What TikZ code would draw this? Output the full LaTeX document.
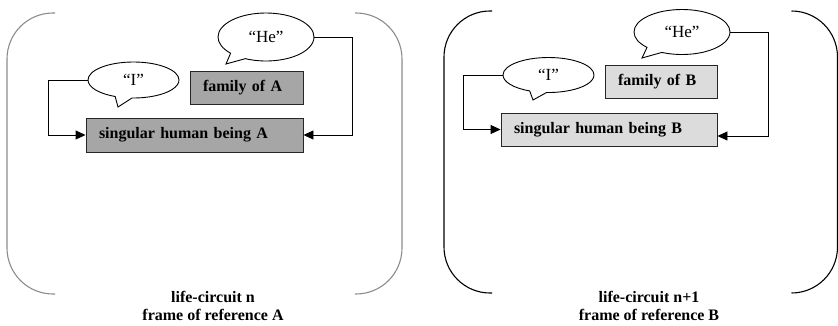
\documentclass[tikz,border=0pt]{standalone}
\usepackage{fontspec}
\setmainfont{Liberation Serif}
\usetikzlibrary{arrows.meta,shapes.callouts}
\definecolor{boxdark}{HTML}{A6A6A6}
\definecolor{boxlight}{HTML}{DCDCDC}
\definecolor{bracketgray}{HTML}{8C8C8C}
\begin{document}
\begin{tikzpicture}[x=1pt,y=1pt,
  bubble/.style={ellipse callout, draw=black, fill=white, line width=0.9pt,
    inner sep=0pt, font=\fontsize{17}{19}\selectfont, callout pointer arc=22},
  person/.style={draw=black!85, line width=0.9pt, inner xsep=13pt, inner ysep=0pt,
    align=left, font=\bfseries\fontsize{16}{18}\selectfont},
  link/.style={draw=black, line width=0.9pt},
  arrowlink/.style={link, -{Triangle[length=10pt,width=9pt]}},
  bracket/.style={line width=1.1pt, rounded corners=46pt},
  caption/.style={align=center, font=\bfseries\fontsize{16}{18}\selectfont}
]
\useasboundingbox (0,0) rectangle (838,-326);

% ---- life-circuit n ----
\draw[bracket, bracketgray] (55,-13) -- (7,-13) -- (7,-294) -- (55,-294);
\draw[bracket, bracketgray] (355,-13) -- (402,-13) -- (402,-294) -- (355,-294);

\node[person, fill=boxdark, text width=191pt, minimum height=34pt] (singA) at (194.5,-135) {singular human being A};
\node[person, fill=boxdark, text width=87pt, minimum height=33pt] (famA) at (246.5,-87.5) {family of A};

\node[bubble, minimum width=96pt, minimum height=48pt,
  callout absolute pointer={(226,-64)}] (HeA) at (266,-37) {``He''};
\node[bubble, minimum width=91pt, minimum height=36pt,
  callout absolute pointer={(118,-107)}] (IA) at (133.5,-80) {``I''};

\coordinate (rA) at (352,-135);
\coordinate (lA) at (48,-135);
\draw[arrowlink] (HeA.east) -| (rA) -- (singA.east);
\draw[arrowlink] (IA.west) -| (lA) -- (singA.west);

\node[caption] (capA) at (213,-306) {life-circuit n\\frame of reference A};

% ---- life-circuit n+1 ----
\draw[bracket, black] (492,-11) -- (444,-11) -- (444,-293) -- (492,-293);
\draw[bracket, black] (792,-11) -- (837.5,-11) -- (837.5,-293) -- (792,-293);

\node[person, fill=boxlight, text width=190pt, minimum height=33pt] (singB) at (609,-129.5) {singular human being B};
\node[person, fill=boxlight, text width=86pt, minimum height=33pt] (famB) at (661,-81.5) {family of B};

\node[bubble, minimum width=96pt, minimum height=45pt,
  callout absolute pointer={(642,-58)}] (HeB) at (682,-32) {``He''};
\node[bubble, minimum width=91pt, minimum height=35pt,
  callout absolute pointer={(533,-100)}] (IB) at (548.5,-75) {``I''};

\coordinate (rB) at (768,-136);
\coordinate (lB) at (463,-129.5);
\draw[arrowlink] (HeB.east) -| (rB) -- (singB.east |- rB);
\draw[arrowlink] (IB.west) -| (lB) -- (singB.west);

\node[caption] (capB) at (649,-306) {life-circuit n+1\\frame of reference B};
\end{tikzpicture}
\end{document}
